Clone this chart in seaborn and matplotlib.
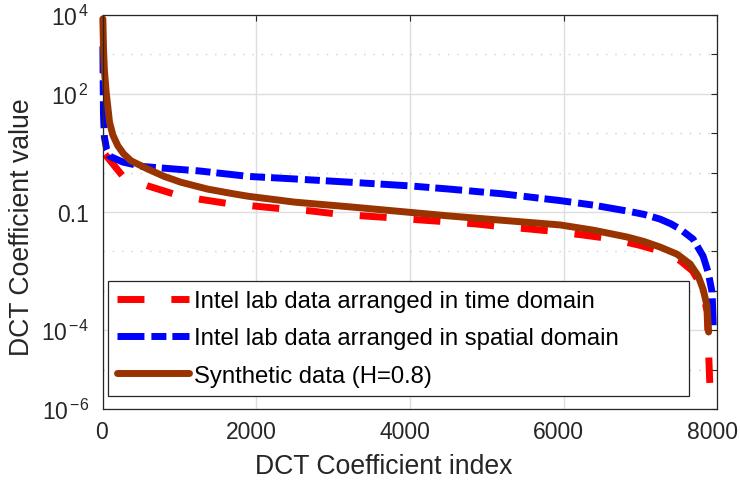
import numpy as np
import pandas as pd
import matplotlib
matplotlib.use("Agg")
import matplotlib.pyplot as plt
import matplotlib.transforms as mtransforms
import seaborn as sns

# ---------------- data ----------------
time_idx = [30, 260, 586, 940, 1270, 1620, 2000, 2350, 2700, 3050, 3420,
            3780, 4130, 4500, 4850, 5220, 5560, 5820, 6260, 6610, 6980, 7290,
            7520, 7680, 7800, 7870, 7905]
time_val = [2.9, 0.81, 0.46, 0.28, 0.21, 0.165, 0.14, 0.12, 0.107, 0.089,
            0.079, 0.071, 0.063, 0.056, 0.050, 0.042, 0.037, 0.033, 0.026, 0.021,
            0.0145, 0.0098, 0.0058, 0.0032, 0.0013, 0.0003, 4.6e-6]

spatial_idx = [0, 8, 20, 50, 90, 260, 520, 940, 1260, 1900, 2500, 3220, 4000,
               4525, 5200, 5955, 6385, 6828, 7050, 7258, 7400, 7518, 7688, 7818,
               7883, 7935, 7950]
spatial_val = [1600, 30, 8, 3.8, 2.6, 1.85, 1.43, 1.23, 1.1, 0.8, 0.69, 0.57,
               0.46, 0.38, 0.29, 0.195, 0.150, 0.106, 0.087, 0.066, 0.050, 0.037,
               0.0205, 0.0076, 0.003, 9.3e-4, 1.3e-4]

synth_idx = [0, 8, 20, 43, 87, 130, 195, 270, 365, 586, 800, 1016, 1368, 1700,
             1900, 2500, 3220, 4525, 5200, 5955, 6385, 6828, 7050, 7258, 7479,
             7649, 7753, 7818, 7870, 7890]
synth_val = [8000, 1500, 400, 110, 19, 9, 4.8, 3.0, 2.0, 1.23, 0.8, 0.57, 0.38,
             0.29, 0.25, 0.178, 0.135, 0.079, 0.0617, 0.047, 0.0347, 0.0232,
             0.0178, 0.0129, 0.0085, 0.0048, 0.0024, 0.0011, 4.1e-4, 9e-5]

series_labels = ["Intel lab data arranged in time domain",
                 "Intel lab data arranged in spatial domain",
                 "Synthetic data (H=0.8)"]
series_colors = ["#ff0000", "#0000ff", "#993300"]

x_ticks = [0, 2000, 4000, 6000, 8000]
x_tick_labels = ["0", "2000", "4000", "6000", "8000"]
y_ticks = [1e-6, 1e-4, 1e-1, 1e2, 1e4]
y_tick_labels = [r"$10^{\,\mathregular{-6}}$", r"$10^{\,\mathregular{-4}}$", "0.1",
                 r"$10^{\,\mathregular{2}}$", r"$10^{\,\mathregular{4}}$"]
y_minor = [1e-5, 1e-3, 1e-2, 1e0, 1e1, 1e3]

x_label = "DCT Coefficient index"
y_label = "DCT Coefficient value"

# ---------------- style ----------------
sns.set_theme(style="white")
plt.rcParams["font.family"] = ["Liberation Sans", "DejaVu Sans"]
plt.rcParams["mathtext.fontset"] = "custom"
plt.rcParams["mathtext.rm"] = "Liberation Sans"
plt.rcParams["mathtext.it"] = "Liberation Sans:italic"
plt.rcParams["mathtext.bf"] = "Liberation Sans:bold"
plt.rcParams["lines.scale_dashes"] = False

dark = "#262626"
gridc = "#dedede"

fig = plt.figure(figsize=(7.4, 4.85), dpi=100)
ax = fig.add_axes([0.139, 0.1546, 0.830, 0.8124])
ax.set_yscale("log")

data_sets = [(time_idx, time_val), (spatial_idx, spatial_val), (synth_idx, synth_val)]
styles = [(0, (19.4, 19.4)), (0, (19.4, 5.0, 10.8, 4.3)), "-"]
for (xs, ys), lab, col, ls in zip(data_sets, series_labels, series_colors, styles):
    df = pd.DataFrame({"idx": xs, "val": ys})
    sns.lineplot(data=df, x="idx", y="val", ax=ax, color=col, linewidth=5,
                 linestyle=ls, label=lab, clip_on=False, sort=False,
                 estimator=None)

ax.set_xlim(0, 8000)
ax.set_ylim(1e-6, 1e4)

ax.set_xticks(x_ticks)
ax.set_xticklabels(x_tick_labels)
ax.yaxis.set_major_locator(matplotlib.ticker.FixedLocator(y_ticks))
ax.yaxis.set_major_formatter(matplotlib.ticker.FixedFormatter(y_tick_labels))
ax.yaxis.set_minor_locator(matplotlib.ticker.FixedLocator(y_minor))
ax.yaxis.set_minor_formatter(matplotlib.ticker.NullFormatter())

ax.tick_params(axis="both", which="both", direction="in", length=4.5, width=0.8,
               color=dark, top=True, right=True, labelcolor=dark, labelsize=16.5)
ax.tick_params(axis="x", pad=8)
ax.tick_params(axis="y", pad=10)

# shift x tick labels slightly left, as in the reference
for i, lbl in enumerate(ax.get_xticklabels()):
    dx = -0.01 if i == 0 else -0.05
    lbl.set_transform(lbl.get_transform() +
                      mtransforms.ScaledTranslation(dx, 0, fig.dpi_scale_trans))

ax.set_axisbelow(True)
ax.grid(True, which="major", axis="both", color=gridc, linewidth=1.0, linestyle="-")
ax.grid(True, which="minor", axis="y", color="#cfcfcf", linewidth=1.0,
        linestyle=(0, (1.0, 5.7)))

for s in ax.spines.values():
    s.set_color(dark)
    s.set_linewidth(0.9)

ax.set_xlabel(x_label, fontsize=19.2, color=dark)
ax.set_ylabel(y_label, fontsize=19.2, color=dark)
ax.xaxis.label.set_va("center")
ax.yaxis.label.set_va("center")
ax.xaxis.set_label_coords(0.458, -0.145)
ax.yaxis.set_label_coords(-0.132, 0.464)

leg = ax.legend(loc="upper left", bbox_to_anchor=(0.008, 0.0355, 0.946, 0.2895),
                mode="expand", borderaxespad=0, fontsize=17.2, frameon=True,
                fancybox=False, framealpha=1, edgecolor=dark, handlelength=3.0,
                handletextpad=0.25, borderpad=0.38, labelspacing=0.64)
leg.get_frame().set_linewidth(0.9)
for t in leg.get_texts():
    t.set_color("black")

fig.savefig("out.png", dpi=100)
